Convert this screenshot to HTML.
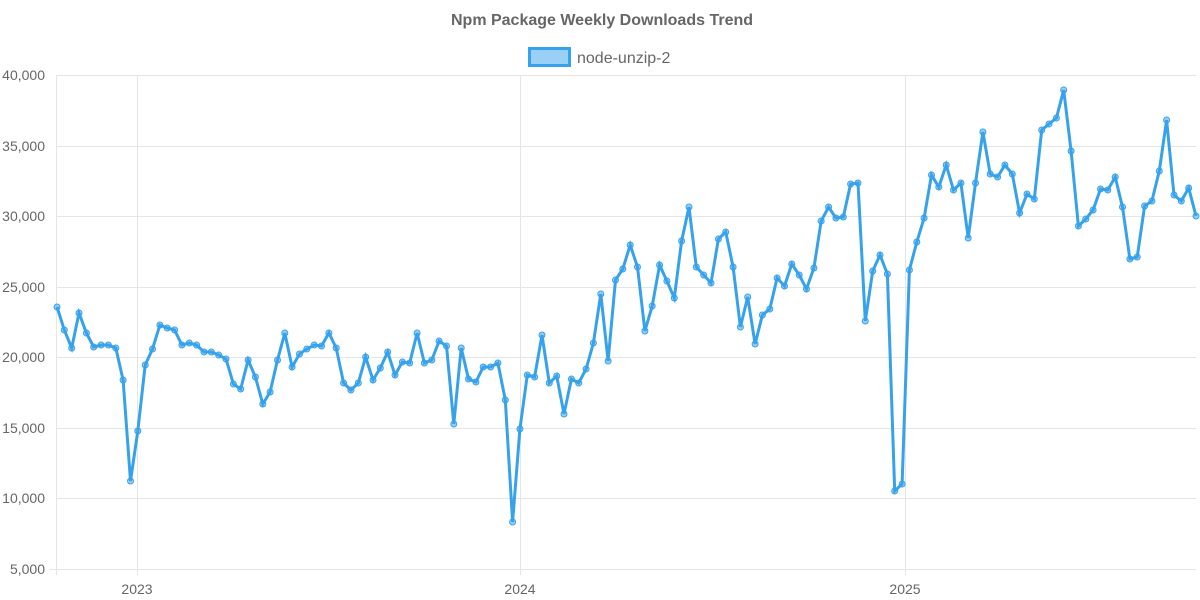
<!DOCTYPE html>
<html><head><meta charset="utf-8"><style>
html,body{margin:0;padding:0;background:#fff;}
svg{display:block;font-family:"Liberation Sans",Arial,sans-serif;}
</style></head><body>
<svg id="c" width="1200" height="600" xmlns="http://www.w3.org/2000/svg">
<text x="602" y="25" text-anchor="middle" font-size="16" font-weight="bold" fill="#666">Npm Package Weekly Downloads Trend</text>
<rect x="529.5" y="48.5" width="40" height="17" fill="rgba(54,162,235,0.5)" stroke="#36a2eb" stroke-width="3"/>
<text x="577" y="63" font-size="16" fill="#666">node-unzip-2</text>
<g stroke="#e5e5e5" stroke-width="1">
<line x1="57" x2="1196" y1="75.5" y2="75.5"/><line x1="57" x2="1196" y1="146.5" y2="146.5"/>
<line x1="57" x2="1196" y1="216.5" y2="216.5"/><line x1="57" x2="1196" y1="287.5" y2="287.5"/>
<line x1="57" x2="1196" y1="357.5" y2="357.5"/><line x1="57" x2="1196" y1="428.5" y2="428.5"/>
<line x1="57" x2="1196" y1="498.5" y2="498.5"/><line x1="50" x2="1196" y1="569.5" y2="569.5"/>
<line x1="56.5" x2="56.5" y1="75" y2="575"/><line x1="137.5" x2="137.5" y1="75" y2="575"/>
<line x1="520.5" x2="520.5" y1="75" y2="575"/><line x1="905.5" x2="905.5" y1="75" y2="575"/>
</g>
<g font-size="14" fill="#666" text-anchor="end">
<text x="45" y="80">40,000</text><text x="45" y="151">35,000</text><text x="45" y="221">30,000</text>
<text x="45" y="292">25,000</text><text x="45" y="362">20,000</text><text x="45" y="433">15,000</text>
<text x="45" y="503">10,000</text><text x="45" y="574">5,000</text>
</g>
<g font-size="14" fill="#666" text-anchor="middle">
<text x="137" y="594">2023</text><text x="520" y="594">2024</text><text x="905" y="594">2025</text>
</g>
<g id="s"></g>
</svg>
<script>
var y=[307,330,348,313,333,347,345,345,348,380,481,431,365,349,325,328,330,345,343,345,352,352,355,359,384,389,360,377,404,392,360,333,367,354,349,345,346,333,348,383,390,383,357,380,368,352,375,362,363,333,363,360,341,346,424,348,379,382,367,367,363,400,522,429,375,377,335,383,376,414,379,383,369,343,294,361,280,269,245,267,331,306,265,281,298,241,207,267,275,283,239,232,267,327,297,344,315,309,278,286,264,275,289,268,221,207,218,217,184,183,321,271,255,274,491,484,270,242,218,175,187,165,190,183,238,183,132,174,177,165,174,213,194,199,130,124,118,90,151,226,219,210,189,190,177,207,259,257,206,201,171,120,195,201,188,216];
var n=y.length,d="",c="";
for(var i=0;i<n;i++){var x=57+i*(1196-57)/(n-1);d+=(i?"L":"M")+x.toFixed(1)+","+y[i];
c+='<circle cx="'+x.toFixed(1)+'" cy="'+y[i]+'" r="3" fill="rgba(54,162,235,0.5)" stroke="#36a2eb" stroke-width="1"/>';}
document.getElementById("s").innerHTML='<path d="'+d+'" fill="none" stroke="#36a2eb" stroke-width="3" stroke-linejoin="miter"/>'+c;
</script>
</body></html>
